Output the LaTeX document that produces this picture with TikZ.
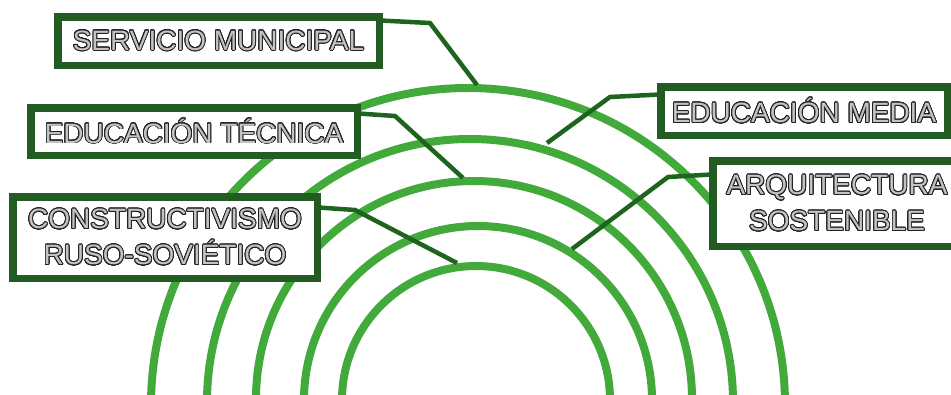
\documentclass[tikz,border=0pt]{standalone}
\usepackage{fontspec}
\setmainfont{Liberation Sans}
\usepackage[copies]{contour}
\contourlength{0.9pt}
\contournumber{24}
\definecolor{arcgreen}{RGB}{66,170,58}
\definecolor{linkgreen}{RGB}{30,100,30}
\definecolor{boxgreen}{RGB}{35,92,35}
\definecolor{txtfill}{RGB}{195,195,195}
\definecolor{txtline}{RGB}{35,35,35}
\newcommand{\otxt}[1]{\contour{txtline}{\textcolor{txtfill}{#1}}}
\tikzset{
  ring/.style={draw=arcgreen, line width=8pt},
  link/.style={draw=linkgreen, line width=4.5pt, line join=miter},
  labelbox/.style={draw=boxgreen, line width=5pt, fill=white, inner sep=0pt,
    font=\fontsize{28}{36}\selectfont, align=center},
}
\begin{document}
\begin{tikzpicture}[x=1pt,y=-1pt]
\useasboundingbox (0,0) rectangle (951,394);
\clip (0,0) rectangle (951,394);
% rings
\draw[ring] (468,405) circle (317pt);
\draw[ring] (470,402) circle (263pt);
\draw[ring] (474,399) circle (218pt);
\draw[ring] (478,400) circle (174pt);
\draw[ring] (476,400) circle (134pt);
% boxes
\node[labelbox, minimum width=319pt, minimum height=46pt] (serv) at (218.5,41) {\otxt{SERVICIO MUNICIPAL}};
\node[labelbox, minimum width=284pt, minimum height=46pt] (media) at (804,111) {\otxt{EDUCACIÓN MEDIA}};
\node[labelbox, minimum width=324pt, minimum height=45pt] (tec) at (194,131.5) {\otxt{EDUCACIÓN TÉCNICA}};
\node[labelbox, minimum width=302pt, minimum height=79pt] (constr) at (165,237.5) {\otxt{CONSTRUCTIVISMO}\\\otxt{RUSO-SOVIÉTICO}};
\node[labelbox, minimum width=270pt, minimum height=83pt] (arq) at (849,203.5) {\otxt{ARQUITECTURA}\hspace*{24pt}\\\otxt{SOSTENIBLE}\hspace*{24pt}};
% connector ends on rings
\coordinate (eserv) at (477,85);
\coordinate (emedia) at (547,143);
\coordinate (etec) at (463,178);
\coordinate (econstr) at (457,263);
\coordinate (earq) at (572,249);
% connectors
\draw[link] ([yshift=-5pt]serv.north east) -- (430,23) -- (eserv);
\draw[link] ([yshift=-9pt]media.north west) -- (610,97) -- (emedia);
\draw[link] ([yshift=-7pt]tec.north east) -- (395,116) -- (etec);
\draw[link] ([yshift=-12pt]constr.north east) -- (355,210) -- (econstr);
\draw[link] ([yshift=-15pt]arq.north west) -- (668,177) -- (earq);
% box borders over connector starts
\foreach \n in {serv,media,tec,constr,arq}{
  \draw[boxgreen, line width=5pt] (\n.north west) rectangle (\n.south east);
}
\end{tikzpicture}
\end{document}
